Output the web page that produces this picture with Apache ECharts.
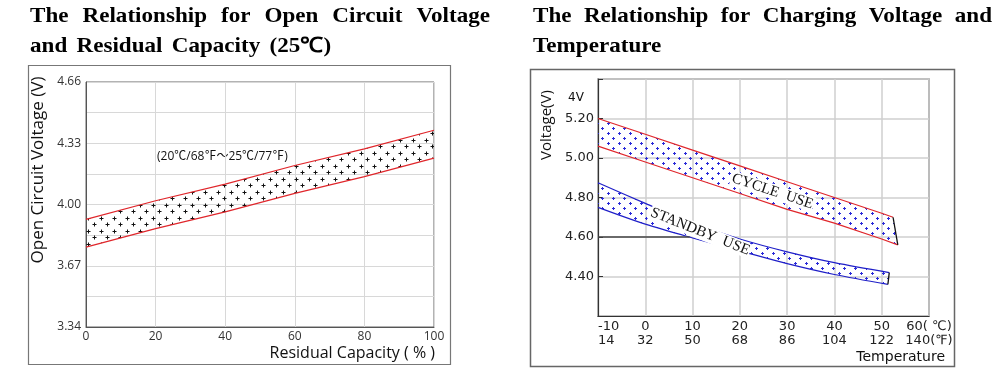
<!DOCTYPE html>
<html>
<head>
<meta charset="utf-8">
<script src="https://cdn.jsdelivr.net/npm/echarts@6/dist/echarts.min.js"></script>
<style>
html,body{margin:0;padding:0;background:#fff;}
#main{width:999px;height:377px;}
</style>
</head>
<body>
<div id="main"></div>
<script>
// left: open circuit voltage vs residual capacity
var capX = [0, 20, 40, 60, 80, 100];
var ocvUpper = [3.92, 4.02, 4.11, 4.21, 4.30, 4.40];
var ocvLower = [3.77, 3.87, 3.96, 4.06, 4.15, 4.25];

// right: charging voltage vs temperature
var tempC = [-10, 0, 10, 20, 30, 40, 50, 60];
var tempF = [14, 32, 50, 68, 86, 104, 122, 140];
var cycleUpperX = [-10, 0, 10, 20, 30, 40, 50, 52.4];
var cycleUpper  = [5.20, 5.12, 5.04, 4.96, 4.88, 4.80, 4.72, 4.70];
var cycleLowerX = [-10, 0, 10, 20, 30, 40, 50, 53.4];
var cycleLower  = [5.06, 4.98, 4.90, 4.82, 4.74, 4.67, 4.59, 4.56];
var standbyUpperX = [-10, 0, 10, 20, 30, 40, 51.6];
var standbyUpper  = [4.875, 4.77, 4.67, 4.59, 4.525, 4.47, 4.42];
var standbyLowerX = [-10, 0, 10, 20, 30, 40, 51.3];
var standbyLower  = [4.75, 4.665, 4.595, 4.53, 4.465, 4.41, 4.36];
var refLine = [[-10, 4.60], [9.4, 4.60]];

function plusPattern(color, w, h, arm) {
	var c = document.createElement('canvas');
	c.width = w; c.height = h;
	var g = c.getContext('2d');
	g.strokeStyle = color;
	g.lineWidth = 1;
	[[w * 0.25, h * 0.25], [w * 0.75, h * 0.75]].forEach(function (p) {
		var x = Math.round(p[0]) + 0.5, y = Math.round(p[1]) + 0.5;
		g.beginPath();
		g.moveTo(x - arm, y); g.lineTo(x + arm, y);
		g.moveTo(x, y - arm); g.lineTo(x, y + arm);
		g.stroke();
	});
	return c;
}

var blackDots = plusPattern('#111', 13, 13, 2);
var blueDots = plusPattern('#2a2ad8', 11, 10, 1.5);

var leftBands = [{
	ux: capX, uy: ocvUpper, lx: capX, ly: ocvLower,
	color: '#e0262b', pattern: blackDots, smooth: 0
}];
var rightBands = [{
	ux: cycleUpperX, uy: cycleUpper, lx: cycleLowerX, ly: cycleLower,
	color: '#e0262b', pattern: blueDots, smooth: 0, endColor: '#111',
	label: 'CYCLE  USE', labelAt: [26.9, 4.831], labelRot: -0.322
}, {
	ux: standbyUpperX, uy: standbyUpper, lx: standbyLowerX, ly: standbyLower,
	color: '#1f1fc8', pattern: blueDots, smooth: 0.3, endColor: '#111',
	label: 'STANDBY  USE', labelAt: [11.6, 4.627], labelRot: -0.38
}];

function bandRenderer(bands) {
	return function (params, api) {
		var b = bands[params.dataIndex];
		var up = b.ux.map(function (x, i) { return api.coord([x, b.uy[i]]); });
		var lo = b.lx.map(function (x, i) { return api.coord([x, b.ly[i]]); });
		var poly = up.concat(lo.slice().reverse());
		var kids = [
			{ type: 'polygon', shape: { points: poly }, style: { fill: { image: b.pattern, repeat: 'repeat' }, stroke: null } },
			{ type: 'polyline', shape: { points: up, smooth: b.smooth }, style: { stroke: b.color, lineWidth: 1.2, fill: null } },
			{ type: 'polyline', shape: { points: lo, smooth: b.smooth }, style: { stroke: b.color, lineWidth: 1.2, fill: null } }
		];
		if (b.endColor) {
			var a = up[up.length - 1], z = lo[lo.length - 1];
			kids.push({ type: 'line', shape: { x1: a[0], y1: a[1], x2: z[0], y2: z[1] }, style: { stroke: b.endColor, lineWidth: 1.3 } });
		}
		if (b.label) {
			var p = api.coord(b.labelAt);
			kids.push({
				type: 'text', x: p[0], y: p[1], rotation: b.labelRot,
				style: { text: b.label, font: '15px "Liberation Serif"', fill: '#111', align: 'center', verticalAlign: 'middle', backgroundColor: '#fff', padding: [0, 1] }
			});
		}
		return { type: 'group', children: kids };
	};
}

// titles, spread like the printed sheet
var measureCtx = document.createElement('canvas').getContext('2d');
var titleFont = 'bold 21px "Liberation Serif"';
var titleScale = 1.1;
function titleLine(text, x0, x1, y, justify) {
	measureCtx.font = titleFont;
	var words = text.split(' ');
	var widths = words.map(function (w) { return measureCtx.measureText(w).width * titleScale; });
	var sum = widths.reduce(function (s, v) { return s + v; }, 0);
	var gap = justify && words.length > 1 ? (x1 - x0 - sum) / (words.length - 1) : measureCtx.measureText(' ').width * titleScale * 1.6;
	var kids = [], pos = 0;
	words.forEach(function (w, i) {
		kids.push({ type: 'text', x: pos / titleScale, y: 0, style: { text: w, font: titleFont, fill: '#000', verticalAlign: 'middle' } });
		pos += widths[i] + gap;
	});
	return { type: 'group', x: x0, y: y, scaleX: titleScale, children: kids };
}

var myChart = echarts.init(document.getElementById('main'));
var option = {
	animation: false,
	backgroundColor: '#fff',
	grid: [{
		left: 86, top: 82, width: 348, height: 245,
		show: true, borderColor: '#666', borderWidth: 1
	}, {
		left: 598, top: 79, width: 331, height: 237,
		show: true, borderColor: '#333', borderWidth: 1.2
	}],
	xAxis: [{
		gridIndex: 0, type: 'value', min: 0, max: 100, interval: 20,
		axisLine: { onZero: false, lineStyle: { color: '#555' } },
		axisTick: { show: false },
		axisLabel: { color: '#333', fontSize: 12, fontFamily: 'Open Sans', margin: 4 },
		splitLine: { lineStyle: { color: '#d8d8d8' } }
	}, {
		gridIndex: 1, type: 'value', min: -10, max: 60, interval: 10,
		axisLine: { onZero: false, lineStyle: { color: '#333', width: 1.2 } },
		axisTick: { show: false },
		axisLabel: {
			color: '#222', fontSize: 13, fontFamily: 'DejaVu Sans, Noto Sans CJK SC', margin: 4, lineHeight: 14,
			alignMinLabel: 'left',
			formatter: function (v) {
				var i = tempC.indexOf(v);
				if (i < 0) return '';
				if (i === tempC.length - 1) return v + '( ℃)\n' + tempF[i] + '(℉)';
				return v + '\n' + tempF[i];
			}
		},
		splitLine: { lineStyle: { color: '#cfcfcf', width: 1.5 } }
	}],
	yAxis: [{
		gridIndex: 0, type: 'value', min: 3.34, max: 4.66, interval: 0.33,
		axisLine: { show: true, onZero: false, lineStyle: { color: '#555' } },
		axisTick: { show: false },
		axisLabel: { color: '#333', fontSize: 12, fontFamily: 'Open Sans', margin: 5, formatter: function (v) { return v.toFixed(2); } },
		splitLine: { lineStyle: { color: '#d8d8d8' } },
		minorTick: { show: false, splitNumber: 2 },
		minorSplitLine: { show: true, lineStyle: { color: '#d8d8d8' } }
	}, {
		gridIndex: 1, type: 'value', min: 4.2, max: 5.4, interval: 0.2,
		axisLine: { show: true, onZero: false, lineStyle: { color: '#333', width: 1.2 } },
		axisTick: { show: true, inside: true, length: 5, lineStyle: { color: '#333' } },
		axisLabel: {
			color: '#222', fontSize: 13, fontFamily: 'DejaVu Sans', margin: 4,
			formatter: function (v) { return (v > 4.3 && v < 5.3) ? v.toFixed(2) : ''; }
		},
		splitLine: { lineStyle: { color: '#cfcfcf', width: 1.5 } }
	}],
	series: [{
		type: 'custom', xAxisIndex: 0, yAxisIndex: 0, silent: true,
		renderItem: bandRenderer(leftBands),
		data: leftBands.map(function (b) { return [b.ux[0], b.uy[0]]; })
	}, {
		type: 'line', xAxisIndex: 1, yAxisIndex: 1, silent: true,
		symbol: 'none', data: refLine,
		lineStyle: { color: '#444', width: 1.3 }
	}, {
		type: 'custom', xAxisIndex: 1, yAxisIndex: 1, silent: true,
		renderItem: bandRenderer(rightBands),
		data: rightBands.map(function (b) { return [b.ux[0], b.uy[0]]; })
	}],
	graphic: [
		{ type: 'rect', silent: true, shape: { x: 28.5, y: 65.5, width: 422, height: 299 }, style: { fill: null, stroke: '#777', lineWidth: 1.2 } },
		{ type: 'rect', silent: true, shape: { x: 530.5, y: 69.5, width: 424, height: 297 }, style: { fill: null, stroke: '#666', lineWidth: 1.5 } },
		titleLine('The Relationship for Open Circuit Voltage', 30, 490, 17, true),
		titleLine('and Residual Capacity (25℃)', 30, 330, 47, false),
		titleLine('The Relationship for Charging Voltage and', 533, 992, 17, true),
		titleLine('Temperature', 533, 667, 47, false),
		{ type: 'text', x: 38, y: 170, rotation: Math.PI / 2, silent: true,
			style: { text: 'Open Circuit Voltage (V)', font: '17px "Open Sans"', fill: '#111', align: 'center', verticalAlign: 'middle' } },
		{ type: 'text', x: 435, y: 353, silent: true,
			style: { text: 'Residual Capacity ( % )', font: '16px "Open Sans"', fill: '#111', align: 'right', verticalAlign: 'middle' } },
		{ type: 'text', x: 157, y: 157, silent: true,
			style: { text: '(20℃/68℉～25℃/77℉)', font: '12px "Open Sans", "Noto Sans CJK SC"', fill: '#111', verticalAlign: 'middle' } },
		{ type: 'text', x: 547, y: 125, rotation: Math.PI / 2, silent: true,
			style: { text: 'Voltage(V)', font: '15px "Open Sans"', fill: '#111', align: 'center', verticalAlign: 'middle' } },
		{ type: 'text', x: 568, y: 98, silent: true,
			style: { text: '4V', font: '12px "DejaVu Sans"', fill: '#111', verticalAlign: 'middle' } },
		{ type: 'text', x: 945, y: 357, silent: true,
			style: { text: 'Temperature', font: '14px "DejaVu Sans"', fill: '#111', align: 'right', verticalAlign: 'middle' } }
	]
};
myChart.setOption(option);
</script>
</body>
</html>
